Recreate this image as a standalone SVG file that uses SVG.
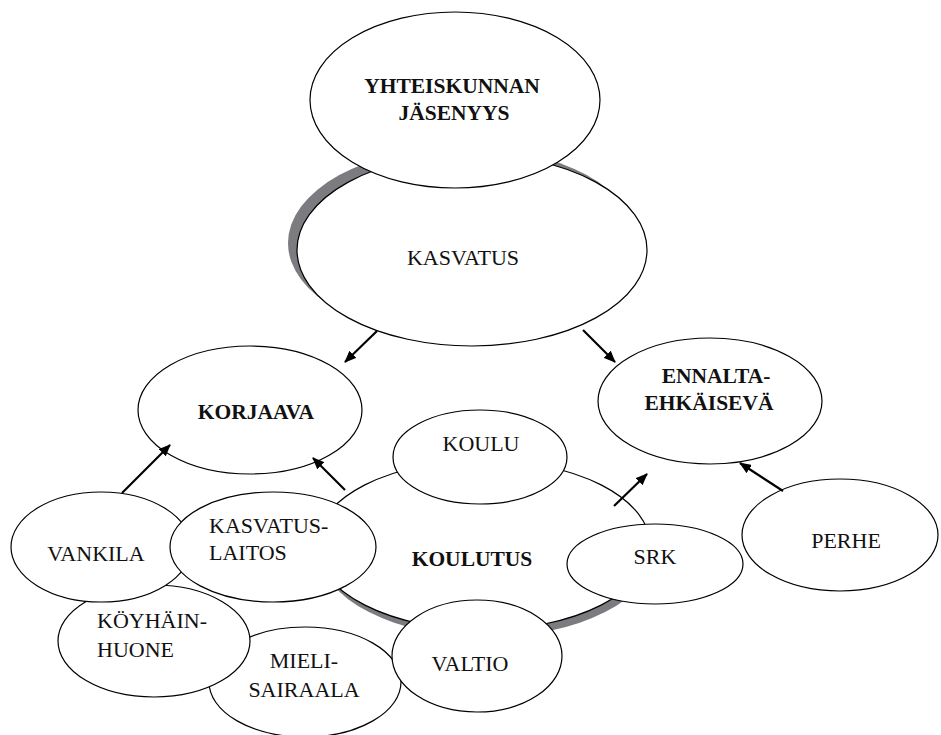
<svg xmlns="http://www.w3.org/2000/svg" width="941" height="735" viewBox="0 0 941 735">
<defs>
<style>
.n{fill:#fff;stroke:#000;stroke-width:1.2}
.sh{fill:#7b7b80;stroke:none}
.t{font-family:"Liberation Serif","Times New Roman",serif;font-size:22px;fill:#111}
.b{font-weight:bold;font-size:21.5px}
.m{text-anchor:middle}
.c{stroke:#000;stroke-width:2.2;fill:none;marker-end:url(#ah)}
</style>
<marker id="ah" markerUnits="userSpaceOnUse" markerWidth="12" markerHeight="10" refX="11" refY="5" orient="auto">
<path d="M0,0 L12,5 L0,10 z" fill="#000"/>
</marker>
</defs>
<rect width="941" height="735" fill="#fff"/>
<g id="kasvatus">
<ellipse class="sh" cx="463" cy="243" rx="175" ry="96"/>
<ellipse class="n" cx="472" cy="250" rx="175" ry="96"/>
<text class="t m" x="463" y="265">KASVATUS</text>
</g>
<g id="yhteiskunnan">
<ellipse class="n" cx="455" cy="100" rx="145" ry="88"/>
<text class="t b m" x="452" y="93">YHTEISKUNNAN</text>
<text class="t b m" x="454" y="120">JÄSENYYS</text>
</g>
<g id="korjaava">
<ellipse class="n" cx="250" cy="410" rx="112" ry="64"/>
<text class="t b m" x="256" y="419">KORJAAVA</text>
</g>
<g id="ennalta">
<ellipse class="n" cx="710" cy="401" rx="112" ry="63"/>
<text class="t b m" x="716" y="383">ENNALTA-</text>
<text class="t b m" x="709" y="410">EHKÄISEVÄ</text>
</g>
<g id="koulutus">
<ellipse class="sh" cx="487" cy="552" rx="167" ry="85"/>
<ellipse class="n" cx="483" cy="545" rx="167" ry="85"/>
<text class="t b m" x="472" y="566">KOULUTUS</text>
</g>
<g id="koulu">
<ellipse class="n" cx="480" cy="457" rx="87" ry="47"/>
<text class="t m" x="481" y="451">KOULU</text>
</g>
<g id="srk">
<ellipse class="n" cx="655" cy="564" rx="88" ry="40"/>
<text class="t m" x="655" y="564">SRK</text>
</g>
<g id="perhe">
<ellipse class="n" cx="840" cy="535" rx="98" ry="56"/>
<text class="t m" x="846" y="548">PERHE</text>
</g>
<g id="mielisairaala">
<ellipse class="n" cx="305" cy="682" rx="96" ry="55"/>
<text class="t m" x="304" y="668">MIELI-</text>
<text class="t m" x="304" y="697">SAIRAALA</text>
</g>
<g id="koyhainhuone">
<ellipse class="n" cx="154" cy="641" rx="96" ry="56"/>
<text class="t" x="97" y="628">KÖYHÄIN-</text>
<text class="t" x="97" y="657">HUONE</text>
</g>
<g id="vankila">
<ellipse class="n" cx="101" cy="547" rx="90" ry="55"/>
<text class="t m" x="96" y="561">VANKILA</text>
</g>
<g id="kasvatuslaitos">
<ellipse class="n" cx="273" cy="547" rx="103" ry="55"/>
<text class="t" x="209" y="533">KASVATUS-</text>
<text class="t" x="209" y="560">LAITOS</text>
</g>
<g id="valtio">
<ellipse class="n" cx="477" cy="656" rx="85" ry="56"/>
<text class="t m" x="470" y="671">VALTIO</text>
</g>
<g id="connectors">
<line class="c" x1="377" y1="331" x2="345" y2="362"/>
<line class="c" x1="583" y1="330" x2="615" y2="362"/>
<line class="c" x1="122" y1="493" x2="170" y2="445"/>
<line class="c" x1="345" y1="490" x2="313" y2="458"/>
<line class="c" x1="614" y1="506" x2="647" y2="474"/>
<line class="c" x1="783" y1="491" x2="740" y2="463"/>
</g>
</svg>
